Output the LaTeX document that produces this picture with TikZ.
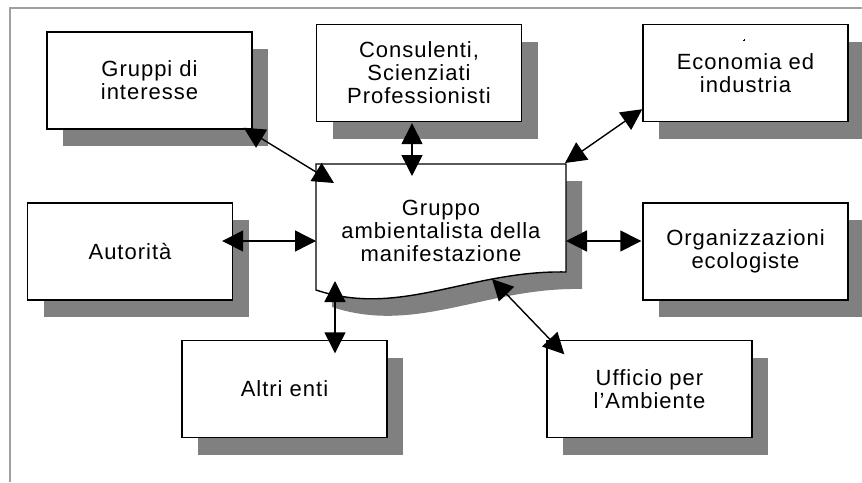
\documentclass[tikz,border=0pt]{standalone}
\usepackage{fontspec}
\setmainfont{Liberation Sans}[LetterSpace=4.5]
\usetikzlibrary{arrows.meta,shadows,calc}
\definecolor{shadowgray}{HTML}{808080}
\definecolor{framegray}{HTML}{A0A0A0}
\begin{document}
\begin{tikzpicture}[x=1pt,y=-1pt,
  txt/.style={align=center, inner sep=0pt, font=\fontsize{22pt}{23pt}\selectfont},
  box/.style={txt, draw=black, line width=1.4pt, fill=white,
    minimum width=205pt, minimum height=97pt,
    drop shadow={shadow xshift=16pt, shadow yshift=-17pt, fill=shadowgray, opacity=1}},
  link/.style={line width=1.4pt,
    {Triangle[length=21pt,width=21pt]}-{Triangle[length=21pt,width=21pt]}},
]
\useasboundingbox (0,0) rectangle (862,482);
% frame
\draw[framegray, line width=2.5pt] (10,482) -- (10,8) -- (862,8);

% boxes
\node[box] (gru) at (149.5,80.5) {Gruppi di\\interesse};
\node[box] (con) at (419,73) {Consulenti,\\Scienziati\\Professionisti};
\node[box] (eco) at (745.5,73) {Economia ed\\industria};
\node[box] (aut) at (130,251.5) {Autorità};
\node[box] (org) at (745.5,251.5) {Organizzazioni\\ecologiste};
\node[box] (alt) at (284.5,389) {Altri enti};
\node[box] (uff) at (649.5,389) {Ufficio per\\l’Ambiente};

% tiny mark in Economia box
\draw[line width=0.4pt] (743,40) -- (745,40) (744,39) -- (744,41);

% central document shape
\fill[shadowgray, shift={(16,17)}] (316,164) -- (566,164) -- (566,272)
  .. controls (470,270) and (400,318) .. (316,290) -- cycle;
\draw[line width=1.4pt, fill=white] (316,164) -- (566,164) -- (566,272)
  .. controls (470,270) and (400,318) .. (316,290) -- cycle;
\coordinate (cTL) at (316,164);
\coordinate (cTR) at (566,164);
\node[txt] (grp) at (441,231) {Gruppo\\ambientalista della\\manifestazione};

% connectors
\draw[link] ($(gru.south east)+(-9,-2)$) -- ($(cTL)+(18,19)$);
\draw[link] ($(con.south)+(-7,1)$) -- ($(cTL)+(96,12)$);
\draw[link] ($(eco.south west)+(0,-13)$) -- ($(cTR)+(-1,-1)$);
\draw[link] ($(aut.east)+(-11,-10.5)$) -- ($(cTL)+(0,77)$);
\draw[link] ($(org.west)+(-1,-10.5)$) -- ($(cTR)+(0,77)$);
\draw[link] ($(alt.north)+(50.5,13.5)$) -- ($(cTL)+(19,117)$);
\draw[link] ($(uff.north west)+(18,14.5)$) -- ($(cTL)+(176,115)$);
\end{tikzpicture}
\end{document}
